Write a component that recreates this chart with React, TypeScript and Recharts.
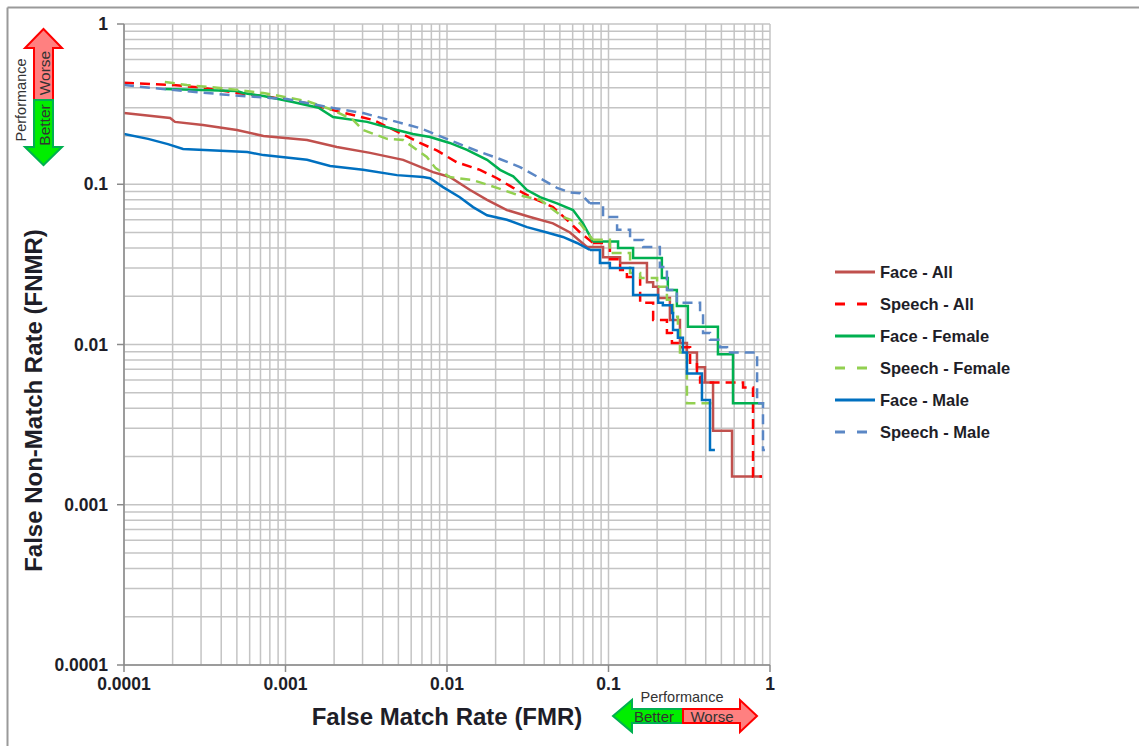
import React from 'react';
import { LineChart, Line, XAxis, YAxis, CartesianGrid, Legend } from 'recharts';

// axis ticks (log decades) and the minor grid multipliers
const DECADES = [0.0001, 0.001, 0.01, 0.1, 1];
const MINOR_STEPS = [1, 2, 3, 4, 5, 6, 7, 8, 9];

// [FMR, FNMR]
// below STEP_FROM the steps are tiny so the points are joined straight,
// above it each point starts a plateau (coarse stairs at the tail)
const STEP_FROM = 0.085;

const faceAll = [
  [0.0001, 0.278], [0.000193, 0.259], [0.000207, 0.245], [0.000308, 0.234], [0.0005, 0.218],
  [0.00073, 0.2], [0.00136, 0.189], [0.00208, 0.171], [0.00334, 0.157], [0.00535, 0.142],
  [0.0082, 0.119], [0.0104, 0.111], [0.0139, 0.092], [0.0177, 0.08], [0.0235, 0.069],
  [0.0327, 0.0625], [0.0453, 0.057], [0.0578, 0.05], [0.0736, 0.0406], [0.0925, 0.035],
  [0.118, 0.0323], [0.173, 0.0245], [0.189, 0.0229], [0.203, 0.0195], [0.24, 0.0142],
  [0.277, 0.0102], [0.306, 0.0089], [0.353, 0.0072], [0.396, 0.0058], [0.444, 0.0029],
  [0.582, 0.0015], [0.892, 0.0015],
];

const speechAll = [
  [0.0001, 0.43], [0.000201, 0.416], [0.000308, 0.4], [0.0005, 0.371], [0.0008, 0.35],
  [0.00136, 0.32], [0.00197, 0.29], [0.00348, 0.252], [0.00512, 0.209], [0.0068, 0.181],
  [0.0087, 0.162], [0.0115, 0.137], [0.016, 0.123], [0.0204, 0.109], [0.0257, 0.095],
  [0.0341, 0.082], [0.0453, 0.072], [0.0553, 0.06], [0.0667, 0.05], [0.0802, 0.043],
  [0.102, 0.034], [0.118, 0.0292], [0.13, 0.0264], [0.157, 0.0182], [0.189, 0.0142],
  [0.23, 0.0118], [0.247, 0.0102], [0.277, 0.0096], [0.32, 0.0077], [0.353, 0.0063],
  [0.369, 0.0058], [0.681, 0.0054], [0.785, 0.0015], [0.892, 0.0015],
];

const faceFemale = [
  [0.000179, 0.393], [0.0005, 0.382], [0.000546, 0.371], [0.00073, 0.355], [0.00111, 0.326],
  [0.0016, 0.3], [0.00197, 0.263], [0.0032, 0.245], [0.0049, 0.218], [0.00615, 0.206],
  [0.00785, 0.197], [0.0104, 0.181], [0.0133, 0.164], [0.0177, 0.142], [0.0213, 0.123],
  [0.0257, 0.112], [0.0313, 0.092], [0.0377, 0.083], [0.048, 0.076], [0.0603, 0.069],
  [0.0695, 0.057], [0.08, 0.044], [0.1146, 0.04], [0.142, 0.0347], [0.214, 0.026],
  [0.233, 0.0219], [0.265, 0.0174], [0.31, 0.0129], [0.476, 0.0087], [0.59, 0.0043],
  [0.92, 0.0043],
];

const speechFemale = [
  [0.000179, 0.435], [0.000245, 0.416], [0.000393, 0.399], [0.00073, 0.371], [0.00136, 0.33],
  [0.00197, 0.29], [0.00262, 0.252], [0.00302, 0.218], [0.00425, 0.192], [0.00535, 0.189],
  [0.0075, 0.148], [0.0085, 0.126], [0.0104, 0.111], [0.0145, 0.106], [0.0204, 0.095],
  [0.0271, 0.086], [0.0377, 0.08], [0.0522, 0.0625], [0.0667, 0.057], [0.08, 0.045],
  [0.102, 0.0372], [0.136, 0.0279], [0.157, 0.026], [0.2, 0.0229], [0.23, 0.019],
  [0.251, 0.0149], [0.269, 0.0123], [0.277, 0.0089], [0.306, 0.0043], [0.47, 0.0043],
];

const faceMale = [
  [0.0001, 0.206], [0.000141, 0.192], [0.000187, 0.178], [0.000232, 0.166], [0.00058, 0.159],
  [0.00073, 0.152], [0.00136, 0.142], [0.00189, 0.13], [0.00302, 0.123], [0.0049, 0.114],
  [0.0071, 0.111], [0.00785, 0.109], [0.00945, 0.096], [0.012, 0.083], [0.0145, 0.072],
  [0.0177, 0.064], [0.0235, 0.06], [0.0313, 0.054], [0.0416, 0.05], [0.0522, 0.0469],
  [0.0638, 0.043], [0.0768, 0.0389], [0.0885, 0.0323], [0.102, 0.03], [0.142, 0.0204],
  [0.203, 0.0182], [0.217, 0.0176], [0.247, 0.0157], [0.251, 0.0123], [0.269, 0.011],
  [0.289, 0.0089], [0.306, 0.0066], [0.379, 0.0045], [0.425, 0.0022], [0.456, 0.0022],
];

const speechMale = [
  [0.0001, 0.416], [0.000174, 0.393], [0.000453, 0.36], [0.00102, 0.34], [0.00197, 0.299],
  [0.00302, 0.278], [0.0049, 0.245], [0.0068, 0.224], [0.0087, 0.203], [0.0115, 0.181],
  [0.016, 0.159], [0.0204, 0.146], [0.0283, 0.128], [0.0377, 0.109], [0.048, 0.095],
  [0.0578, 0.089], [0.0667, 0.088], [0.0768, 0.076], [0.0925, 0.0625], [0.113, 0.052],
  [0.136, 0.0449], [0.164, 0.0406], [0.208, 0.0305], [0.23, 0.0219], [0.265, 0.0182],
  [0.369, 0.0157], [0.385, 0.0118], [0.425, 0.0107], [0.49, 0.0096], [0.542, 0.0089],
  [0.832, 0.0043], [0.905, 0.0022], [0.93, 0.0022],
];

const toPoints = (rows: number[][]) => rows.map(([fmr, fnmr]) => ({ fmr, fnmr }));

const SERIES = [
  { name: 'Face - All', rows: faceAll, color: '#C0504D', dash: undefined },
  { name: 'Speech - All', rows: speechAll, color: '#FF0000', dash: '10 6' },
  { name: 'Face - Female', rows: faceFemale, color: '#00B050', dash: undefined },
  { name: 'Speech - Female', rows: speechFemale, color: '#92D050', dash: '10 6' },
  { name: 'Face - Male', rows: faceMale, color: '#0070C0', dash: undefined },
  { name: 'Speech - Male', rows: speechMale, color: '#5B87C5', dash: '10 6' },
];

// split a curve into the fine (straight) head and the coarse stair tail
const splitCurve = (rows: number[][]) => {
  const head = rows.filter(r => r[0] < STEP_FROM);
  const tail = rows.filter(r => r[0] >= STEP_FROM);
  return { head, tail: head.length ? [head[head.length - 1], ...tail] : tail };
};

const gridValues = DECADES.slice(0, -1)
  .flatMap(d => MINOR_STEPS.map(s => d * s))
  .concat(DECADES[DECADES.length - 1]);

const FONT = "'Liberation Sans', Arial, sans-serif";
const TEXT = '#1e1e28';

const renderLegend = () => (
  <div style={{ fontFamily: FONT }}>
    {SERIES.map(s => (
      <div key={s.name} style={{ display: 'flex', alignItems: 'center', height: 32 }}>
        <svg width={44} height={32}>
          <line x1={2} x2={s.dash ? 34 : 42} y1={16} y2={16} stroke={s.color} strokeWidth={3}
            strokeDasharray={s.dash ? '10 12' : undefined} />
        </svg>
        <span style={{ marginLeft: 3, fontSize: 16.5, fontWeight: 700, color: TEXT, whiteSpace: 'nowrap' }}>{s.name}</span>
      </div>
    ))}
  </div>
);

// the two "Performance" better/worse arrows drawn next to the axes
const PerformanceArrows = () => (
  <svg width={1139} height={746} style={{ position: 'absolute', left: 0, top: 0, pointerEvents: 'none' }}
    fontFamily={FONT}>
    <line x1={7.5} y1={7.5} x2={1139} y2={7.5} stroke="#9a9a9a" strokeWidth={2} />
    <line x1={7.5} y1={7.5} x2={7.5} y2={746} stroke="#9a9a9a" strokeWidth={2} />

    <polygon points="43.5,29 62,48 53,48 53,100 34,100 34,48 25,48" fill="#FF8080" stroke="#FF0000" strokeWidth={2} />
    <polygon points="34,100 53,100 53,147 62,147 43.5,165 25,147 34,147" fill="#00EE00" stroke="#00B050" strokeWidth={2} />
    <text x={44} y={73} transform="rotate(-90 44 73)" textAnchor="middle" dominantBaseline="central" fontSize={15.5} fill="#333">Worse</text>
    <text x={44} y={125} transform="rotate(-90 44 125)" textAnchor="middle" dominantBaseline="central" fontSize={15.5} fill="#333">Better</text>
    <text x={21} y={100} transform="rotate(-90 21 100)" textAnchor="middle" dominantBaseline="central" fontSize={14.5} fill="#333">Performance</text>

    <polygon points="613,716 632,700 632,709 683,709 683,723 632,723 632,732" fill="#00EE00" stroke="#00B050" strokeWidth={2} />
    <polygon points="683,709 740,709 740,700 757,716 740,732 740,723 683,723" fill="#FF8080" stroke="#FF0000" strokeWidth={2} />
    <text x={682} y={697} textAnchor="middle" dominantBaseline="central" fontSize={14.5} fill="#333">Performance</text>
    <text x={654} y={716} textAnchor="middle" dominantBaseline="central" fontSize={15} fill="#333">Better</text>
    <text x={712} y={716} textAnchor="middle" dominantBaseline="central" fontSize={15} fill="#333">Worse</text>
  </svg>
);

export default function App() {
  return (
    <div style={{ position: 'absolute', left: 0, top: 0, width: 1139, height: 746, background: '#fff', fontFamily: FONT }}>
      <LineChart width={1139} height={746} margin={{ top: 24, right: 369, bottom: 41, left: 0 }}>
        <CartesianGrid stroke="#c4c4c4" strokeWidth={1.5} horizontalValues={gridValues} verticalValues={gridValues} />
        <XAxis
          type="number"
          dataKey="fmr"
          scale="log"
          domain={[0.0001, 1]}
          allowDataOverflow
          ticks={DECADES}
          interval={0}
          tickFormatter={(v: number) => String(v)}
          height={40}
          tickSize={7}
          tickMargin={6}
          stroke="#8a8a8a"
          strokeWidth={1.5}
          tick={{ fill: TEXT, fontSize: 17.5, fontWeight: 700 }}
          label={{ value: 'False Match Rate (FMR)', position: 'center', dy: 31, fill: TEXT, fontSize: 24, fontWeight: 700 }}
        />
        <YAxis
          type="number"
          dataKey="fnmr"
          scale="log"
          domain={[0.0001, 1]}
          allowDataOverflow
          ticks={DECADES}
          interval={0}
          tickFormatter={(v: number) => String(v)}
          width={124}
          tickSize={7}
          tickMargin={9}
          stroke="#8a8a8a"
          strokeWidth={1.5}
          tick={{ fill: TEXT, fontSize: 17.5, fontWeight: 700 }}
          label={{ value: 'False Non-Match Rate (FNMR)', angle: -90, position: 'center', dx: -29, dy: 56, fill: TEXT, fontSize: 24, fontWeight: 700 }}
        />
        <Legend layout="vertical" align="center" verticalAlign="middle" content={renderLegend}
          wrapperStyle={{ left: 833, top: 256, width: 220 }} />
        {SERIES.flatMap(s => {
          const { head, tail } = splitCurve(s.rows);
          const common = {
            name: s.name,
            dataKey: 'fnmr',
            stroke: s.color,
            strokeWidth: 2.5,
            strokeDasharray: s.dash,
            dot: false,
            activeDot: false,
            isAnimationActive: false,
          };
          return [
            <Line key={s.name + '-head'} {...common} data={toPoints(head)} type="linear" />,
            <Line key={s.name + '-tail'} {...common} data={toPoints(tail)} type="stepAfter" legendType="none" />,
          ];
        })}
      </LineChart>
      <PerformanceArrows />
    </div>
  );
}
